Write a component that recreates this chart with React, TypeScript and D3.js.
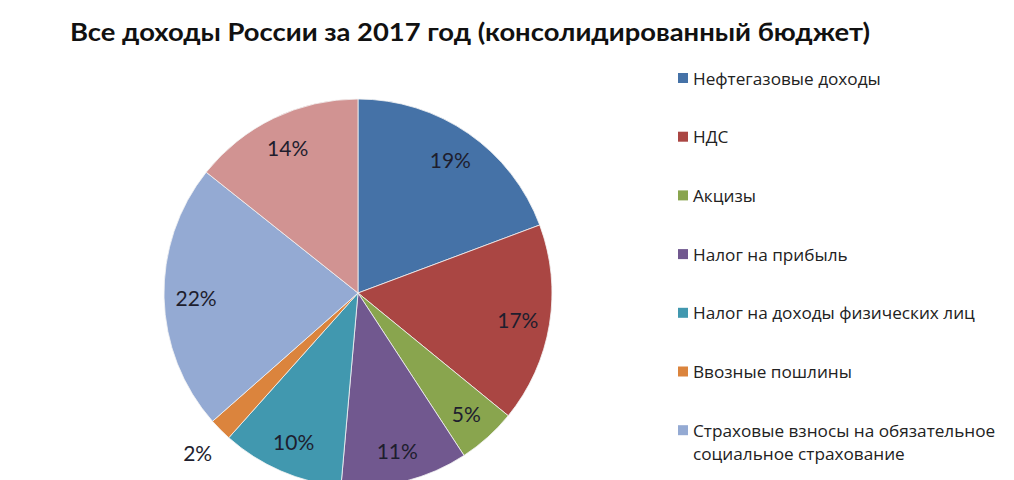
import React from "react";
import * as d3 from "d3";

const title = "Все доходы России за 2017 год (консолидированный бюджет)";
const categories = [
  "Нефтегазовые доходы",
  "НДС",
  "Акцизы",
  "Налог на прибыль",
  "Налог на доходы физических лиц",
  "Ввозные пошлины",
  "Страховые взносы на обязательное социальное страхование",
  "Прочие доходы",
];
const values = [19.3, 16.6, 4.9, 10.6, 10.2, 1.9, 22.2, 14.3];
const labels = ["19%", "17%", "5%", "11%", "10%", "2%", "22%", "14%"];
const colors = ["#4572A7", "#AA4643", "#89A54E", "#71588F", "#4198AF", "#DB843D", "#94AAD3", "#D19392"];
const legendLines = [
  ["Нефтегазовые доходы"],
  ["НДС"],
  ["Акцизы"],
  ["Налог на прибыль"],
  ["Налог на доходы физических лиц"],
  ["Ввозные пошлины"],
  ["Страховые взносы на обязательное", "социальное страхование"],
];

const W = 1014;
const H = 480;
const cx = 358;
const cy = 293;
const R = 194;
const FONT = "Lato, 'Open Sans', sans-serif";
const LFONT = "'Open Sans', Lato, sans-serif";

export default function App() {
  const data = categories.map((c, i) => ({ c, v: values[i], label: labels[i], color: colors[i] }));
  const pie = d3.pie<any>().sort(null).value((d) => d.v);
  const arcs = pie(data);
  const arc = d3.arc<any>().innerRadius(0).outerRadius(R);
  const labelArc = d3.arc<any>().innerRadius(162).outerRadius(162);
  const outerLabelArc = d3.arc<any>().innerRadius(226).outerRadius(226);
  const legendY = d3.scaleLinear().domain([0, 1]).range([78, 136.7]);

  return (
    <svg
      width={W}
      height={H}
      style={{ position: "absolute", left: 0, top: 0, display: "block", background: "#fff" }}
    >
      <text
        x={70}
        y={41}
        fontFamily={FONT}
        fontWeight="bold"
        fontSize={24}
        fill="#111"
        textLength={800}
        lengthAdjust="spacingAndGlyphs"
      >
        {title}
      </text>
      <g transform={`translate(${cx},${cy})`}>
        {arcs.map((a, i) => (
          <path key={i} d={arc(a) as string} fill={a.data.color} stroke="#f4f4f4" strokeWidth={0.8} />
        ))}
        {arcs.map((a, i) => {
          const small = a.data.v < 3;
          const [x, y] = small ? outerLabelArc.centroid(a) : labelArc.centroid(a);
          return (
            <text
              key={"l" + i}
              x={x}
              y={y}
              textAnchor="middle"
              dominantBaseline="central"
              fontFamily={FONT}
              fontSize={21}
              fill="#1e1e2e"
            >
              {a.data.label}
            </text>
          );
        })}
      </g>
      <g>
        {legendLines.map((lines, i) => (
          <g key={i} transform={`translate(678,${legendY(i)})`}>
            <rect x={0} y={-5} width={10} height={10} fill={colors[i]} />
            <text fontFamily={LFONT} fontSize={17.2} fill="#222">
              {lines.map((ln, j) => (
                <tspan key={j} x={15} y={j * 23} dominantBaseline="central">
                  {ln}
                </tspan>
              ))}
            </text>
          </g>
        ))}
      </g>
    </svg>
  );
}
